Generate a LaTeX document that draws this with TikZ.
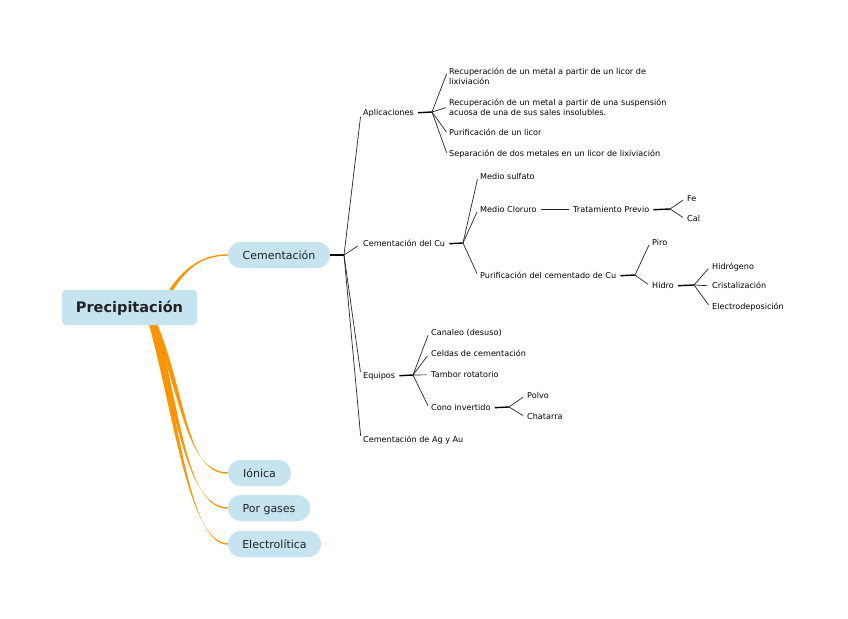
\documentclass[tikz,border=0pt]{standalone}
\usepackage{fontspec}
\setmainfont{DejaVu Sans}
\usetikzlibrary{calc}
\definecolor{boxblue}{RGB}{198,228,239}
\definecolor{orangec}{RGB}{255,148,0}
\definecolor{txt}{RGB}{34,34,34}
\newcommand\taperbranch[5]{%
  \fill[orangec] ($#1+(-#5,0)$) .. controls ($#2+(-0.9*#5,0)$) and ($#3+(0,-0.8)$) .. ($#4+(0,-0.7)$)
    -- ($#4+(0,0.7)$) .. controls ($#3+(0,0.8)$) and ($#2+(0.9*#5,0)$) .. ($#1+(#5,0)$) -- cycle;}
\tikzset{
  mainbox/.style={fill=boxblue, rounded corners=4pt, minimum width=135pt, minimum height=35pt,
    inner sep=0pt, text height=12pt, text depth=1.4pt,
    font=\fontsize{14.5}{17}\selectfont\bfseries, text=txt},
  pill/.style={fill=boxblue, rounded corners=13pt, minimum height=26pt, inner sep=0pt,
    text height=10pt, text depth=2pt, font=\fontsize{11}{13}\selectfont, text=txt},
  leaf/.style={anchor=west, inner xsep=2pt, inner ysep=1pt, font=\fontsize{8.1}{10}\selectfont,
    text=black, align=left, yshift=-0.8pt},
  hub/.style={line width=1.4pt, black, shorten <=2pt},
  twig/.style={line width=0.7pt, black!85, shorten >=2.5pt}
}
\begin{document}
\begin{tikzpicture}[x=1pt,y=-1pt]
\useasboundingbox (0,0) rectangle (848,618);
\fill[white] (0,0) rectangle (848,618);

% level-1 nodes
\node[pill, minimum width=102pt] (cem) at (279,255) {Cementación};
\node[pill, minimum width=63pt] (ion) at (259.5,473) {Iónica};
\node[pill, minimum width=82pt] (por) at (269,508) {Por gases};
\node[pill, minimum width=93pt] (elec) at (274.5,544) {Electrolítica};

% orange branches
\coordinate (s1) at (165,300);
\coordinate (s2) at (152,318);
\coordinate (s3) at (151,318);
\coordinate (s4) at (150,318);
\taperbranch{(s1)}{(182,270)}{(200,255)}{(cem.west)}{2.2}
\taperbranch{(s4)}{(176,410)}{(188,544)}{(elec.west)}{2.8}
\taperbranch{(s3)}{(178,400)}{(184,508)}{(por.west)}{2.8}
\taperbranch{(s2)}{(185,395)}{(185,473)}{(ion.west)}{2.8}

% redraw pills over branch ends, and main node
\node[pill, minimum width=102pt] at (cem) {Cementación};
\node[pill, minimum width=63pt] at (ion) {Iónica};
\node[pill, minimum width=82pt] at (por) {Por gases};
\node[pill, minimum width=93pt] at (elec) {Electrolítica};
\node[mainbox] (main) at (129.5,307.5) {Precipitación};

% tree nodes
\node[leaf] (apl) at (361,112) {Aplicaciones};
\node[leaf] (r1) at (447,76) {Recuperación de un metal a partir de un licor de\\lixiviación};
\node[leaf] (r2) at (447,106.5) {Recuperación de un metal a partir de una suspensión\\acuosa de una de sus sales insolubles.};
\node[leaf] (r3) at (447,132) {Purificación de un licor};
\node[leaf] (r4) at (447,153) {Separación de dos metales en un licor de lixiviación};
\node[leaf] (cdc) at (361,243) {Cementación del Cu};
\node[leaf] (ms) at (478,176) {Medio sulfato};
\node[leaf] (mc) at (478,209) {Medio Cloruro};
\node[leaf] (tp) at (571,209) {Tratamiento Previo};
\node[leaf] (fe) at (685,198) {Fe};
\node[leaf] (cal) at (685,218) {Cal};
\node[leaf] (pur) at (478,275) {Purificación del cementado de Cu};
\node[leaf] (piro) at (650,242) {Piro};
\node[leaf] (hidro) at (650,285) {Hidro};
\node[leaf] (hg) at (710,266) {Hidrógeno};
\node[leaf] (cri) at (710,285) {Cristalización};
\node[leaf] (ele) at (710,306) {Electrodeposición};
\node[leaf] (equ) at (361,375) {Equipos};
\node[leaf] (can) at (429,332) {Canaleo (desuso)};
\node[leaf] (cel) at (429,353) {Celdas de cementación};
\node[leaf] (tam) at (429,374) {Tambor rotatorio};
\node[leaf] (cono) at (429,407) {Cono invertido};
\node[leaf] (pol) at (525,395) {Polvo};
\node[leaf] (cha) at (525,416) {Chatarra};
\node[leaf] (ag) at (361,439) {Cementación de Ag y Au};

% junctions
\coordinate (j0) at (344,255);
\coordinate (japl) at (432,112);
\coordinate (jcdc) at (463,243);
\coordinate (jtp) at (670,209);
\coordinate (jpur) at (635,275);
\coordinate (jhid) at (694,285);
\coordinate (jequ) at (413,375);
\coordinate (jcono) at (509,407);

% connectors
\draw[line width=1.4pt, black] (cem.east) -- (j0);
\draw[twig, shorten >=4pt] (j0) -- (apl.west);
\draw[twig, shorten >=4pt] (j0) -- (cdc.west);
\draw[twig, shorten >=4pt] (j0) -- (equ.west);
\draw[twig, shorten >=4pt] (j0) -- (ag.west);

\draw[hub] (apl.east) -- (japl);
\draw[twig, shorten >=1pt] (japl) -- ([yshift=4pt]r1.west);
\draw[twig, shorten >=1pt] (japl) -- (r2.west);
\draw[twig, shorten >=1pt] (japl) -- (r3.west);
\draw[twig, shorten >=1pt] (japl) -- (r4.west);

\draw[hub] (cdc.east) -- (jcdc);
\draw[twig] (jcdc) -- (ms.west);
\draw[twig] (jcdc) -- (mc.west);
\draw[twig] (jcdc) -- (pur.west);

\draw[line width=0.7pt, black!85, shorten <=2pt, shorten >=2pt] (mc.east) -- (tp.west);
\draw[hub] (tp.east) -- (jtp);
\draw[twig] (jtp) -- (fe.west);
\draw[twig] (jtp) -- (cal.west);

\draw[hub] (pur.east) -- (jpur);
\draw[twig] (jpur) -- (piro.west);
\draw[twig] (jpur) -- (hidro.west);

\draw[hub] (hidro.east) -- (jhid);
\draw[twig] (jhid) -- (hg.west);
\draw[twig] (jhid) -- (cri.west);
\draw[twig] (jhid) -- (ele.west);

\draw[hub] (equ.east) -- (jequ);
\draw[twig] (jequ) -- (can.west);
\draw[twig] (jequ) -- (cel.west);
\draw[twig] (jequ) -- (tam.west);
\draw[twig] (jequ) -- (cono.west);

\draw[hub] (cono.east) -- (jcono);
\draw[twig] (jcono) -- (pol.west);
\draw[twig] (jcono) -- (cha.west);
\end{tikzpicture}
\end{document}
